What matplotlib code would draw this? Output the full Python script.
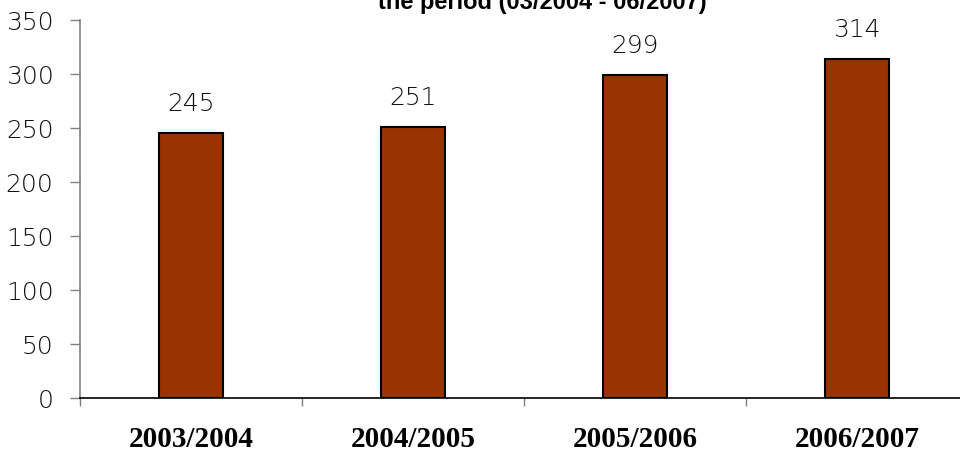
import matplotlib
matplotlib.use("Agg")
import matplotlib.pyplot as plt
import numpy as np

seasons = ["2003/2004", "2004/2005", "2005/2006", "2006/2007"]
counts = [245, 251, 299, 314]
y_ticks = [0, 50, 100, 150, 200, 250, 300, 350]
title = "the period (03/2004 - 06/2007)"

BAR_COLOR = "#993300"
LIGHT = dict(family=["DejaVu Sans"], weight="light")

fig = plt.figure(figsize=(9.6, 4.54), dpi=100)
W, H = 960, 454
ax = fig.add_axes([80 / W, (H - 398) / H, 888 / W, 378 / H])

x = np.arange(len(seasons))
ax.bar(x, counts, width=0.29, color=BAR_COLOR, edgecolor="black", linewidth=1.5, zorder=3)

for xi, v in zip(x, counts):
    ax.annotate(str(v), (xi, v), xytext=(0, 29), textcoords="offset pixels",
                ha="center", va="center", fontsize=18, color="#111111", **LIGHT)

ax.set_xlim(-0.5, len(seasons) - 0.5)
ax.set_ylim(0, 350)
ax.set_yticks(y_ticks)
ax.set_yticklabels([str(t) for t in y_ticks], fontsize=18, color="#111111", **LIGHT)
ax.tick_params(axis="y", direction="out", length=7, width=1, color="#808080", pad=12)

ax.set_xticks(x)
ax.set_xticklabels(seasons, fontsize=21, fontweight="bold", family="Liberation Serif")
ax.tick_params(axis="x", which="major", length=0, pad=20)
ax.set_xticks(np.arange(-0.5, len(seasons), 1.0), minor=True)
ax.tick_params(axis="x", which="minor", direction="out", length=6, width=1, color="#808080")

for side in ["top", "right"]:
    ax.spines[side].set_visible(False)
ax.spines["left"].set_color("#808080")
ax.spines["left"].set_linewidth(1.2)
ax.spines["bottom"].set_color("black")
ax.spines["bottom"].set_linewidth(1.2)

fig.text(542 / W, 1 - 9 / H, title, ha="center", va="baseline",
         fontsize=17, fontweight="bold", family="Liberation Sans")

fig.savefig("out.png", dpi=100)
